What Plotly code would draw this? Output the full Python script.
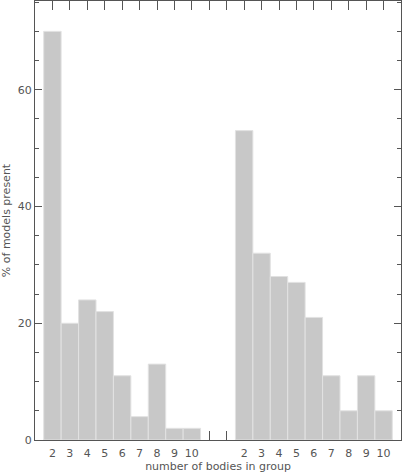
import plotly.graph_objects as go

# bodies-in-group labels for the two histograms
group_labels = ['2', '3', '4', '5', '6', '7', '8', '9', '10']
left_pct = [70, 20, 24, 22, 11, 4, 13, 2, 2]
right_pct = [53, 32, 28, 27, 21, 11, 5, 11, 5]

# slot positions on the axis (two empty slots between the groups)
left_pos = list(range(0, 9))
right_pos = list(range(11, 20))
gap_pos = [9, 10]

bar_style = dict(
    marker=dict(color='#c8c8c8', line=dict(color='#e2e2e2', width=1)),
    width=1.0,
    showlegend=False,
)

fig = go.Figure()
fig.add_trace(go.Bar(x=left_pos, y=left_pct, **bar_style))
fig.add_trace(go.Bar(x=right_pos, y=right_pct, **bar_style))

tick_pos = list(range(0, 20))
tick_text = group_labels + ['', ''] + group_labels

axis_font = dict(family='DejaVu Sans', size=11, color='#555555')
tick_axis = dict(
    range=[-1, 20],
    tickmode='array',
    ticks='inside',
    ticklen=9,
    tickcolor='#555555',
    showticklabels=False,
    showgrid=False,
    zeroline=False,
    automargin=False,
)

fig.update_layout(
    width=402,
    height=473,
    margin=dict(l=35, r=1, t=1, b=33),
    plot_bgcolor='white',
    paper_bgcolor='white',
    bargap=0,
    font=axis_font,
    xaxis=dict(
        range=[-1, 20],
        tickmode='array',
        tickvals=tick_pos,
        ticktext=tick_text,
        ticks='',
        ticklabelstandoff=3,
        showline=True,
        linecolor='#555555',
        linewidth=1,
        mirror=True,
        showgrid=False,
        zeroline=False,
        automargin=False,
        title=dict(text='number of bodies in group', standoff=0, font=axis_font),
        tickfont=axis_font,
    ),
    # tick marks along the top edge
    xaxis2=dict(overlaying='x', side='top', tickvals=tick_pos, **tick_axis),
    # tick marks on the bottom edge, only in the empty slots
    xaxis3=dict(overlaying='x', side='bottom', tickvals=gap_pos, **tick_axis),
    yaxis=dict(
        range=[0, 75.2],
        tickvals=[0, 20, 40, 60],
        ticks='inside',
        ticklen=7,
        tickcolor='#555555',
        minor=dict(dtick=5, ticks='inside', ticklen=4, tickcolor='#555555'),
        showline=True,
        linecolor='#555555',
        linewidth=1,
        mirror='ticks',
        showgrid=False,
        zeroline=False,
        automargin=False,
        title=dict(text='% of models present', standoff=4, font=axis_font),
        tickfont=axis_font,
    ),
)
# empty traces so the overlay axes get drawn
fig.add_trace(go.Scatter(x=[], y=[], xaxis='x2', showlegend=False))
fig.add_trace(go.Scatter(x=[], y=[], xaxis='x3', showlegend=False))

# drop the default page margin, then redraw so the top ticks get painted
post = (
    "document.body.style.margin='0';"
    "var gd = document.getElementById('{plot_id}');"
    "Plotly.relayout(gd, {'xaxis2.ticklen': 9});"
)
fig.write_html(
    "out.html",
    config={'displayModeBar': False, 'staticPlot': True},
    post_script=post,
)
